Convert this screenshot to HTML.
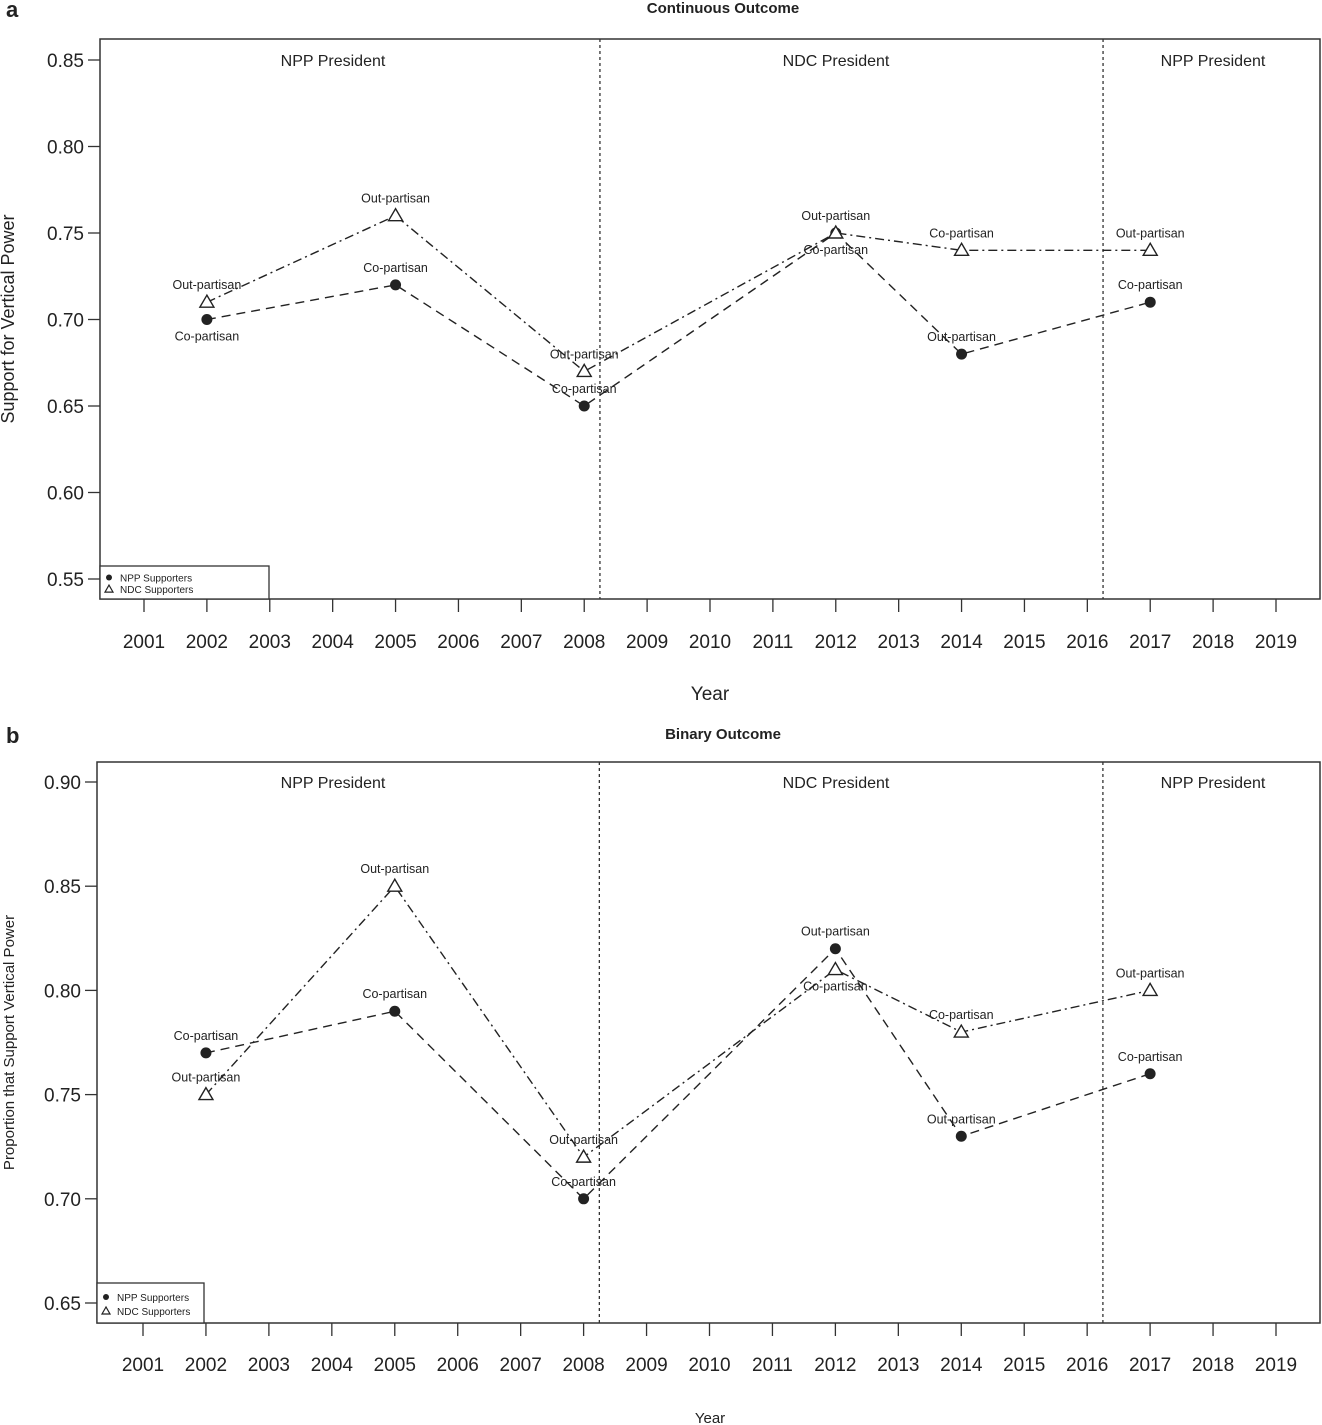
<!DOCTYPE html>
<html><head><meta charset="utf-8"><style>
body{margin:0;background:#fff;}
svg{display:block;font-family:"Liberation Sans",Arial,sans-serif;}
</style></head><body>
<svg id="chart" width="1322" height="1425" xmlns="http://www.w3.org/2000/svg"></svg>
<script>
const years = [2002, 2005, 2008, 2012, 2014, 2017];
const tickYears = [2001,2002,2003,2004,2005,2006,2007,2008,2009,2010,2011,2012,2013,2014,2015,2016,2017,2018,2019];
const nppA = [0.70, 0.72, 0.65, 0.75, 0.68, 0.71];
const ndcA = [0.71, 0.76, 0.67, 0.75, 0.74, 0.74];
const nppB = [0.77, 0.79, 0.70, 0.82, 0.73, 0.76];
const ndcB = [0.75, 0.85, 0.72, 0.81, 0.78, 0.80];
const nppLabA = ["Co-partisan","Co-partisan","Co-partisan","Out-partisan","Out-partisan","Co-partisan"];
const ndcLabA = ["Out-partisan","Out-partisan","Out-partisan","Co-partisan","Co-partisan","Out-partisan"];
const nppPosA = ["below","above","above","above","above","above"];
const ndcPosA = ["above","above","above","below","above","above"];
const nppPosB = ["above","above","above","above","above","above"];
const ndcPosB = ["above","above","above","below","above","above"];
const yTicksA = [0.55,0.60,0.65,0.70,0.75,0.80,0.85];
const yTicksB = [0.65,0.70,0.75,0.80,0.85,0.90];
const dividers = [2008.25, 2016.25];

const svg = document.getElementById('chart');
const NS = "http://www.w3.org/2000/svg";
function mk(tag, attrs, parent, text){
  const e = document.createElementNS(NS, tag);
  for (const k in attrs) e.setAttribute(k, attrs[k]);
  if (text !== undefined) e.textContent = text;
  (parent||svg).appendChild(e);
  return e;
}

function panel(cfg){
  const g = mk('g', {});
  
  
  const X = y => cfg.x0 + (y - 2001) * (cfg.x1 - cfg.x0) / 18;
  const Y = v => cfg.yA + (v - cfg.vA) * (cfg.yB - cfg.yA) / (cfg.vB - cfg.vA);
  const L = cfg.left, R = 1320, T = cfg.top, B = cfg.bottom;
  const t = mk('text', {x: 723, y: cfg.titleY, 'text-anchor':'middle','font-size':15,'font-weight':'bold',fill:'#222'}, g, cfg.title);
  
  
  const lt = mk('text', {x: 6, y: cfg.titleY+4, 'font-size':22,'font-weight':'bold',fill:'#222'}, g, cfg.letter);
  
  
  const box = mk('rect', {x:L,y:T,width:R-L,height:B-T,fill:'none',stroke:'#333','stroke-width':1.5}, g);
  
  
  // y axis
  cfg.yTicks.forEach(v=>{
    mk('line',{x1:L-12,x2:L,y1:Y(v),y2:Y(v),stroke:'#333','stroke-width':1.3},g);
    const tl = mk('text',{x:L-16,y:Y(v)+7,'text-anchor':'end','font-size':19,fill:'#222'},g,v.toFixed(2));
    
    
  });
  tickYears.forEach(yr=>{
    mk('line',{x1:X(yr),x2:X(yr),y1:B,y2:B+13,stroke:'#333','stroke-width':1.3},g);
    const tl = mk('text',{x:X(yr),y:cfg.tickLabY,'text-anchor':'middle','font-size':19,fill:'#222'},g,String(yr));
    
    
  });
  const xt = mk('text',{x:710,y:cfg.xTitleY,'text-anchor':'middle','font-size':cfg.xTitleSize,fill:'#222'},g,'Year');
  
  
  const yc = (T+B)/2;
  const yt = mk('text',{x:14,y:yc,'text-anchor':'middle','font-size':cfg.yTitleSize,fill:'#222',transform:`rotate(-90 14 ${yc})`},g,cfg.yTitle);
  
  
  dividers.forEach(d=>{
    const dl = mk('line',{x1:X(d),x2:X(d),y1:T,y2:B,stroke:'#333','stroke-width':1.3,'stroke-dasharray':'3,3'},g);
    
    
  });
  [[333,'NPP President'],[836,'NDC President'],[1213,'NPP President']].forEach(p=>{
    const pt = mk('text',{x:p[0],y:cfg.presY,'text-anchor':'middle','font-size':16,fill:'#222'},g,p[1]);
    
    
  });
  // series
  const ptsN = years.map((yr,i)=>X(yr)+','+Y(cfg.npp[i])).join(' ');
  const ptsD = years.map((yr,i)=>X(yr)+','+Y(cfg.ndc[i])).join(' ');
  const l1 = mk('polyline',{points:ptsN,fill:'none',stroke:'#222','stroke-width':1.4,'stroke-dasharray':'9,6'},g);
  
  
  const l2 = mk('polyline',{points:ptsD,fill:'none',stroke:'#222','stroke-width':1.4,'stroke-dasharray':'9,4,2,4'},g);
  
  
  years.forEach((yr,i)=>{
    const cx = X(yr), cy = Y(cfg.npp[i]);
    const c = mk('circle',{cx:cx,cy:cy,r:5.5,fill:'#222'},g);
    
    
    const tx = X(yr), ty = Y(cfg.ndc[i]);
    const tr = mk('polygon',{points:`${tx},${ty-7} ${tx-7},${ty+5} ${tx+7},${ty+5}`,fill:'#fff',stroke:'#222','stroke-width':1.4},g);
    
    
    const a = mk('text',{x:cx,y:cfg.nppPos[i]==='above'?cy-13:cy+21,'text-anchor':'middle','font-size':12.5,fill:'#222'},g,cfg.nppLab[i]);
    
    
    const b = mk('text',{x:tx,y:cfg.ndcPos[i]==='above'?ty-13:ty+21,'text-anchor':'middle','font-size':12.5,fill:'#222'},g,cfg.ndcLab[i]);
    
    
  });
  // legend
  const lg = mk('g',{},g);
  
  
  mk('rect',{x:L,y:cfg.legT,width:cfg.legW,height:B-cfg.legT,fill:'#fff',stroke:'#333','stroke-width':1.3},lg);
  const ly1 = cfg.legT + (B-cfg.legT)*0.35, ly2 = cfg.legT + (B-cfg.legT)*0.7;
  mk('circle',{cx:L+9,cy:ly1,r:3,fill:'#222'},lg);
  mk('polygon',{points:`${L+9},${ly2-4} ${L+5},${ly2+3} ${L+13},${ly2+3}`,fill:'#fff',stroke:'#222','stroke-width':1.2},lg);
  const e1 = mk('text',{x:L+20,y:ly1+4,'font-size':10,fill:'#222'},lg,'NPP Supporters');
  
  
  const e2 = mk('text',{x:L+20,y:ly2+4,'font-size':10,fill:'#222'},lg,'NDC Supporters');
  
  
}

panel({name:'panel-a',letter:'a',title:'Continuous Outcome',titleY:13,left:100,top:39,bottom:599,
  x0:144,x1:1276,yA:60,vA:0.85,yB:579,vB:0.55,yTicks:yTicksA,tickLabY:648,xTitleY:700,xTitleSize:19,
  yTitle:'Support for Vertical Power',yTitleSize:18,presY:66,npp:nppA,ndc:ndcA,nppLab:nppLabA,ndcLab:ndcLabA,
  nppPos:nppPosA,ndcPos:ndcPosA,legT:566,legW:169});
panel({name:'panel-b',letter:'b',title:'Binary Outcome',titleY:739,left:97,top:762,bottom:1323,
  x0:143,x1:1276,yA:782,vA:0.90,yB:1303,vB:0.65,yTicks:yTicksB,tickLabY:1371,xTitleY:1423,xTitleSize:15,
  yTitle:'Proportion that Support Vertical Power',yTitleSize:15,presY:788,npp:nppB,ndc:ndcB,nppLab:nppLabA,ndcLab:ndcLabA,
  nppPos:nppPosB,ndcPos:ndcPosB,legT:1283,legW:107});
</script>
</body></html>
